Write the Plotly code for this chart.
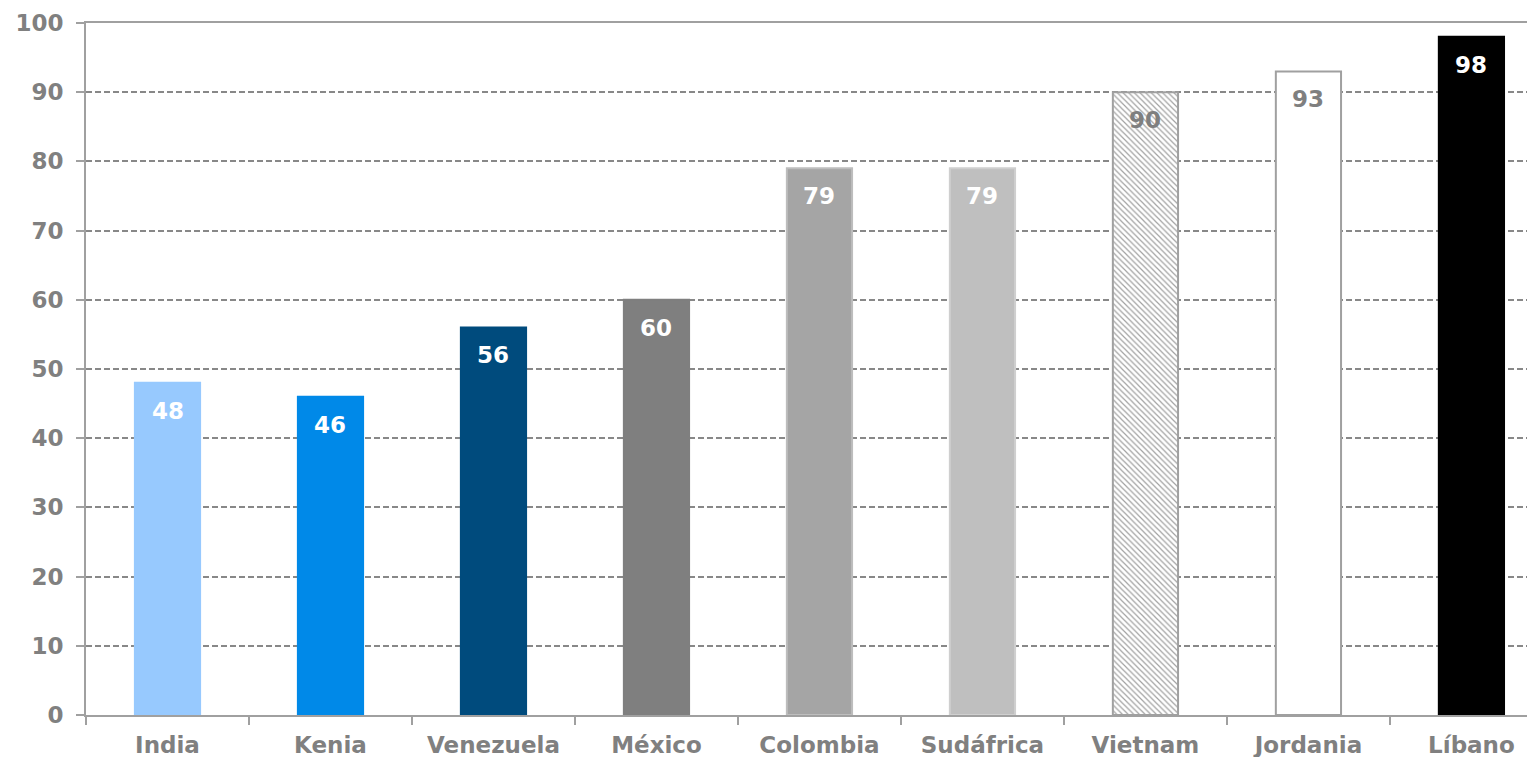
import plotly.graph_objects as go

categories = ["India", "Kenia", "Venezuela", "México", "Colombia", "Sudáfrica", "Vietnam", "Jordania", "Líbano"]
values = [48, 46, 56, 60, 79, 79, 90, 93, 98]
bar_colors = ["#97C9FE", "#0089E8", "#004B7D", "#7F7F7F", "#A5A5A5", "#BFBFBF", "#FFFFFF", "#FFFFFF", "#000000"]
line_colors = ["#97C9FE", "#0089E8", "#004B7D", "#7F7F7F", "#BDBDBD", "#CFCFCF", "#A0A0A0", "#A0A0A0", "#000000"]
text_colors = ["white", "white", "white", "white", "white", "white", "#7F7F7F", "#7F7F7F", "white"]
patterns = ["", "", "", "", "", "", "\\", "", ""]
y_ticks = [0, 10, 20, 30, 40, 50, 60, 70, 80, 90, 100]

grey = "#808080"
font_family = "DejaVu Sans, Verdana, sans-serif"

fig = go.Figure()
fig.add_trace(go.Bar(
    x=categories,
    y=values,
    width=0.4,
    marker=dict(
        color=bar_colors,
        line=dict(color=line_colors, width=2),
        pattern=dict(shape=patterns, fgcolor="#9A9A9A", bgcolor="white", size=4, solidity=0.3, fillmode="overlay"),
    ),
    hoverinfo="skip",
))

for cat, val, tc in zip(categories, values, text_colors):
    fig.add_annotation(
        x=cat, y=val, text=str(val), showarrow=False,
        yanchor="top", yshift=-13,
        font=dict(family=font_family, size=23, color=tc, weight="bold"),
    )

fig.update_layout(
    width=1527, height=749,
    margin=dict(l=78, r=0, t=15, b=42),
    paper_bgcolor="white", plot_bgcolor="white",
    showlegend=False,
    font=dict(family=font_family, color=grey, size=22),
    bargap=0.6,
)
fig.update_xaxes(
    type="category",
    range=[-0.5, 8.39],
    showline=True, linecolor="#A0A0A0", linewidth=2, mirror=True,
    ticks="outside", ticklen=8, tickwidth=2, tickcolor="#A0A0A0",
    tickson="boundaries",
    showgrid=False,
    ticklabelstandoff=8,
    tickfont=dict(family=font_family, size=23, color=grey, weight="bold"),
)
fig.update_yaxes(
    range=[0, 100],
    tickvals=y_ticks,
    showline=True, linecolor="#A0A0A0", linewidth=2,
    ticks="outside", ticklen=8, tickwidth=2, tickcolor="#A0A0A0",
    showgrid=True, gridcolor="#888888", gridwidth=2, griddash="6px,3px",
    zeroline=False,
    ticklabelstandoff=8,
    tickfont=dict(family=font_family, size=23, color=grey, weight="bold"),
)

fig.write_html("out.html")
